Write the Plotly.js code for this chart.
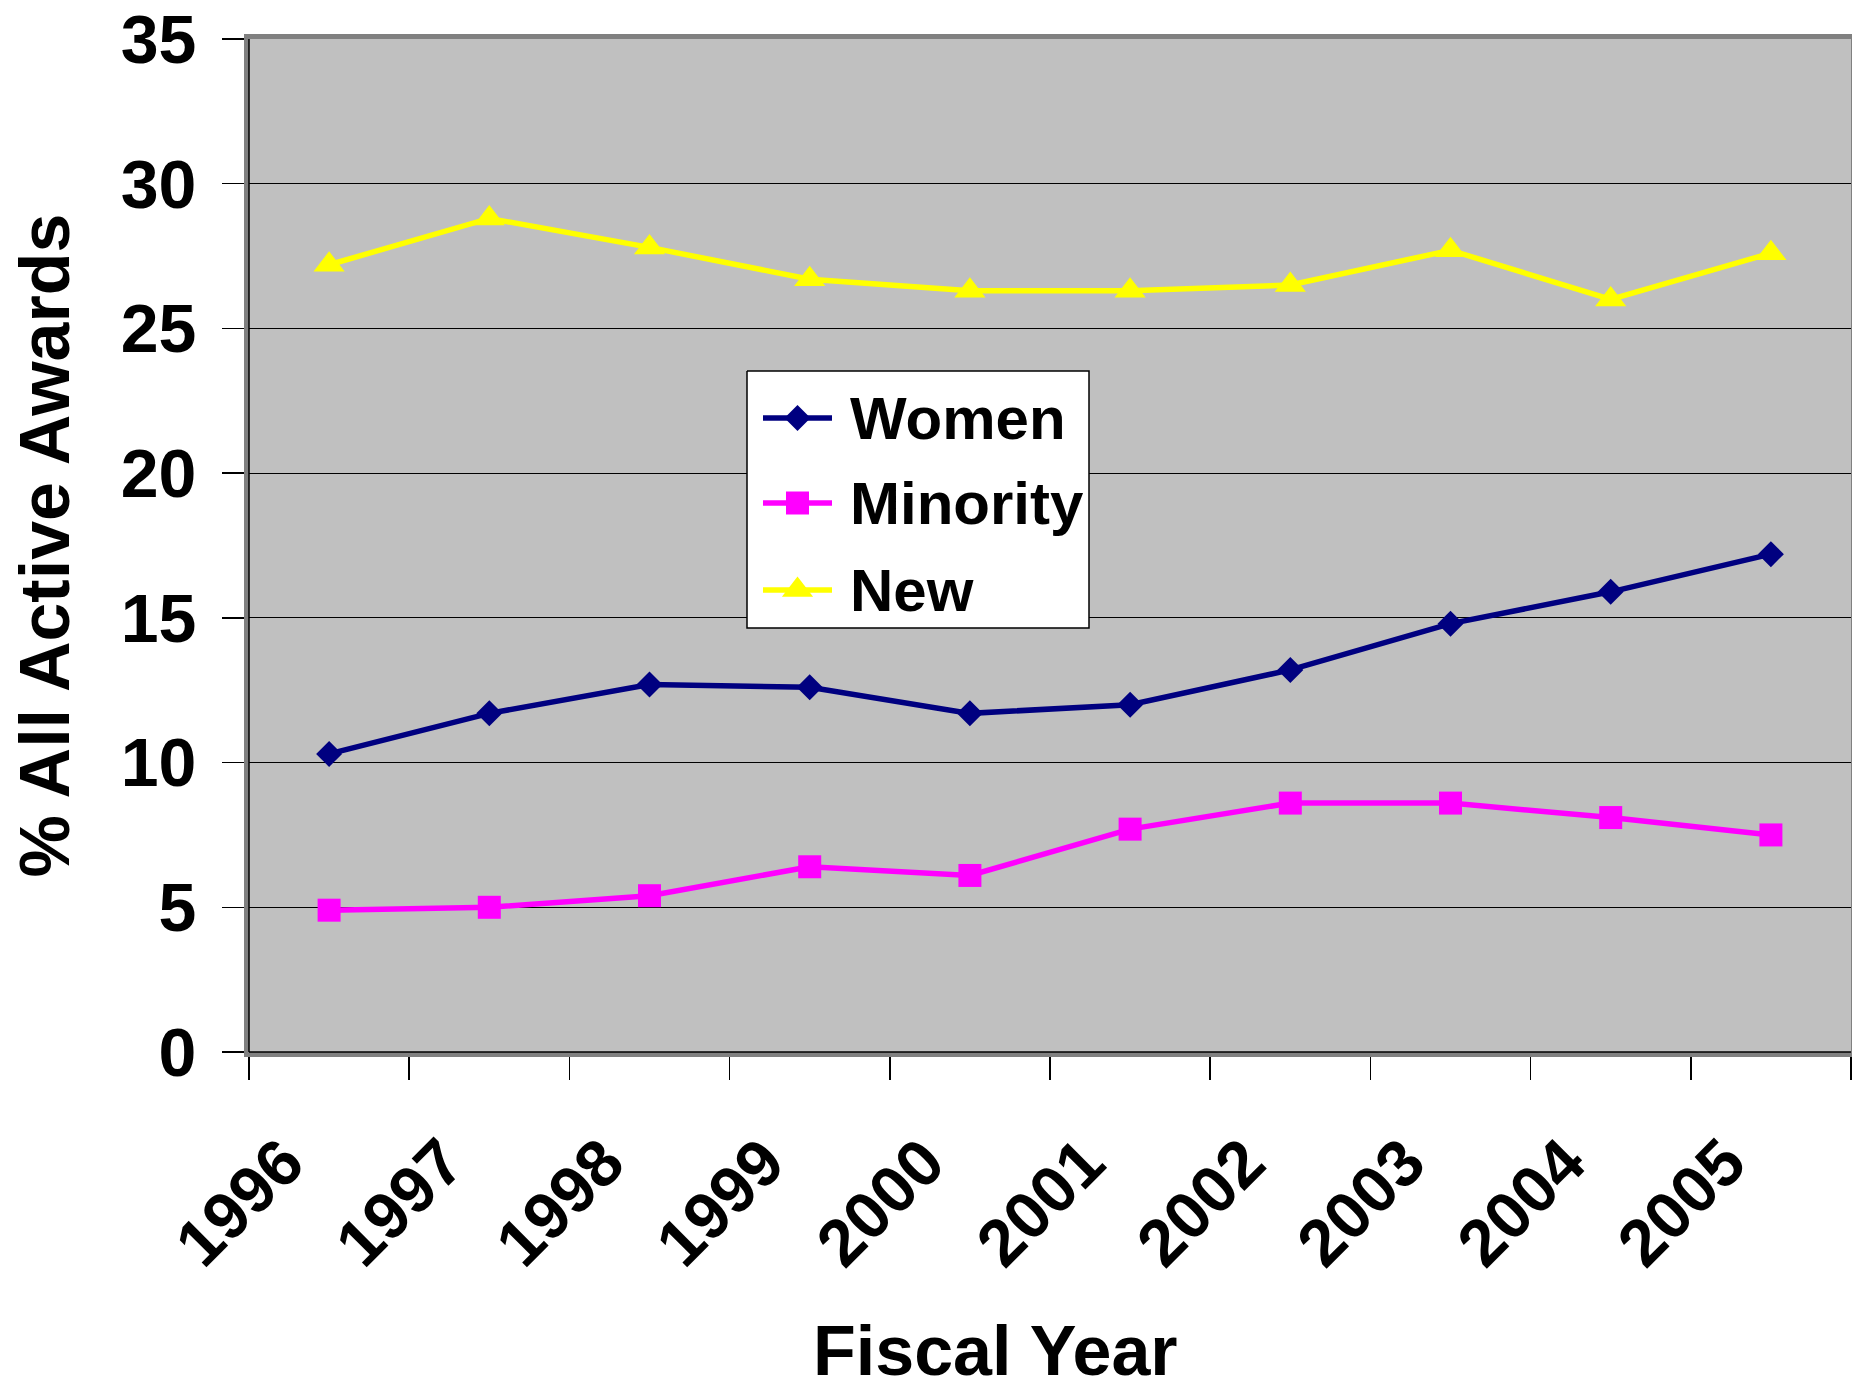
<!DOCTYPE html>
<html>
<head>
<meta charset="utf-8">
<script src="https://cdn.plot.ly/plotly-3.0.1.min.js"></script>
<style>
  html, body { margin: 0; padding: 0; background: #ffffff; }
  #chart { width: 1852px; height: 1390px; }
</style>
</head>
<body>
<div id="chart"></div>
<script>
// Fiscal years shown along the bottom axis
const years = ["1996", "1997", "1998", "1999", "2000", "2001", "2002", "2003", "2004", "2005"];

// Share of all active awards, in percent
const women    = [10.3, 11.7, 12.7, 12.6, 11.7, 12.0, 13.2, 14.8, 15.9, 17.2];
const minority = [4.9, 5.0, 5.4, 6.4, 6.1, 7.7, 8.6, 8.6, 8.1, 7.5];
const newPI    = [27.2, 28.8, 27.8, 26.7, 26.3, 26.3, 26.5, 27.7, 26.0, 27.6];

const FONT = "Arial, 'Liberation Sans', Helvetica, sans-serif";

// Page geometry (pixels): the plot area and a hand-placed legend box inside it
const PLOT = { left: 249, right: 1851, top: 39, bottom: 1052 };
const LEGEND_BOX = { left: 747, right: 1089, top: 371, bottom: 628 };
const LEGEND_SAMPLE = { x0: 763, x1: 832, textX: 848 };
const LEGEND_ROWS = [418, 503, 590];

const styles = [
  { name: "Women",    y: women,    color: "#000080", symbol: "diamond",     size: 20 },
  { name: "Minority", y: minority, color: "#FF00FF", symbol: "square",      size: 23 },
  { name: "New",      y: newPI,    color: "#FFFF00", symbol: "triangle-up", size: 27 }
];

const traces = [];

// data series on the category axis
styles.forEach(s => {
  traces.push({
    type: "scatter",
    mode: "lines+markers",
    name: s.name,
    x: years,
    y: s.y,
    line: { color: s.color, width: 5.5 },
    marker: { color: s.color, symbol: s.symbol, size: s.size, line: { width: 0 } },
    cliponaxis: false,
    showlegend: false
  });
});

// legend: white framed box drawn on a pixel-unit overlay axis pair
traces.push({
  type: "scatter",
  mode: "lines",
  xaxis: "x2", yaxis: "y2",
  x: [LEGEND_BOX.left, LEGEND_BOX.right, LEGEND_BOX.right, LEGEND_BOX.left, LEGEND_BOX.left],
  y: [LEGEND_BOX.top, LEGEND_BOX.top, LEGEND_BOX.bottom, LEGEND_BOX.bottom, LEGEND_BOX.top],
  fill: "toself",
  fillcolor: "#ffffff",
  line: { color: "#000000", width: 1.5 },
  showlegend: false,
  hoverinfo: "skip"
});

// legend samples: a short line with the series marker in its middle
styles.forEach((s, i) => {
  const row = LEGEND_ROWS[i];
  traces.push({
    type: "scatter",
    mode: "lines",
    xaxis: "x2", yaxis: "y2",
    x: [LEGEND_SAMPLE.x0, LEGEND_SAMPLE.x1],
    y: [row, row],
    line: { color: s.color, width: 5.5 },
    showlegend: false,
    hoverinfo: "skip"
  });
  traces.push({
    type: "scatter",
    mode: "markers",
    xaxis: "x2", yaxis: "y2",
    x: [(LEGEND_SAMPLE.x0 + LEGEND_SAMPLE.x1) / 2],
    y: [row],
    marker: { color: s.color, symbol: s.symbol, size: s.size, line: { width: 0 } },
    showlegend: false,
    hoverinfo: "skip"
  });
});

const legendLabels = styles.map((s, i) => ({
  text: s.name,
  xref: "x2", yref: "y2",
  x: LEGEND_SAMPLE.textX, y: LEGEND_ROWS[i],
  xanchor: "left", yanchor: "middle",
  showarrow: false,
  font: { family: FONT, size: 60, color: "#000000", weight: "bold" }
}));

const layout = {
  width: 1852,
  height: 1390,
  margin: { l: PLOT.left, r: 1852 - PLOT.right, t: PLOT.top, b: 1390 - PLOT.bottom },
  paper_bgcolor: "#ffffff",
  plot_bgcolor: "#C0C0C0",
  font: { family: FONT, color: "#000000", weight: "bold" },
  showlegend: false,
  xaxis: {
    type: "category",
    range: [-0.5, years.length - 0.5],
    tickson: "boundaries",
    ticks: "outside",
    ticklen: 23,
    tickwidth: 1.5,
    tickcolor: "#000000",
    tickangle: -45,
    ticklabelstandoff: 40,
    ticklabelshift: -45,
    tickfont: { family: FONT, size: 66, color: "#000000", weight: "bold" },
    showgrid: false,
    showline: true,
    linecolor: "#808080",
    linewidth: 5,
    mirror: true,
    zeroline: false,
    fixedrange: true
  },
  yaxis: {
    range: [0, 35],
    dtick: 5,
    tick0: 0,
    ticks: "outside",
    ticklen: 22,
    tickwidth: 1.5,
    tickcolor: "#000000",
    ticklabelstandoff: 12,
    ticklabeloverflow: "allow",
    tickfont: { family: FONT, size: 68, color: "#000000", weight: "bold" },
    showgrid: true,
    gridcolor: "#000000",
    gridwidth: 1,
    showline: true,
    linecolor: "#808080",
    linewidth: 5,
    mirror: true,
    zeroline: false,
    fixedrange: true
  },
  // overlay axes measured in page pixels, used for the legend
  xaxis2: { overlaying: "x", range: [PLOT.left, PLOT.right], visible: false, fixedrange: true },
  yaxis2: { overlaying: "y", range: [PLOT.bottom, PLOT.top], visible: false, fixedrange: true },
  shapes: [
    // black axis lines along the left and bottom edges of the plot area
    { type: "line", xref: "paper", yref: "paper", x0: 0, x1: 0, y0: 0, y1: 1,
      line: { color: "#000000", width: 1.5 } },
    { type: "line", xref: "paper", yref: "paper", x0: 0, x1: 1, y0: 0, y1: 0,
      line: { color: "#000000", width: 1.5 } }
  ],
  annotations: [
    {
      text: "% All Active Awards",
      xref: "paper", yref: "paper",
      x: 0, y: 0.5, xanchor: "center", yanchor: "middle",
      xshift: -205,
      textangle: -90,
      showarrow: false,
      font: { family: FONT, size: 70, color: "#000000", weight: "bold" }
    },
    {
      text: "Fiscal Year",
      xref: "paper", yref: "paper",
      x: (995 - PLOT.left) / (PLOT.right - PLOT.left), y: 0,
      xanchor: "center", yanchor: "middle",
      yshift: -299,
      showarrow: false,
      font: { family: FONT, size: 70, color: "#000000", weight: "bold" }
    }
  ].concat(legendLabels)
};

Plotly.newPlot("chart", traces, layout, { staticPlot: true, displayModeBar: false });
</script>
</body>
</html>
